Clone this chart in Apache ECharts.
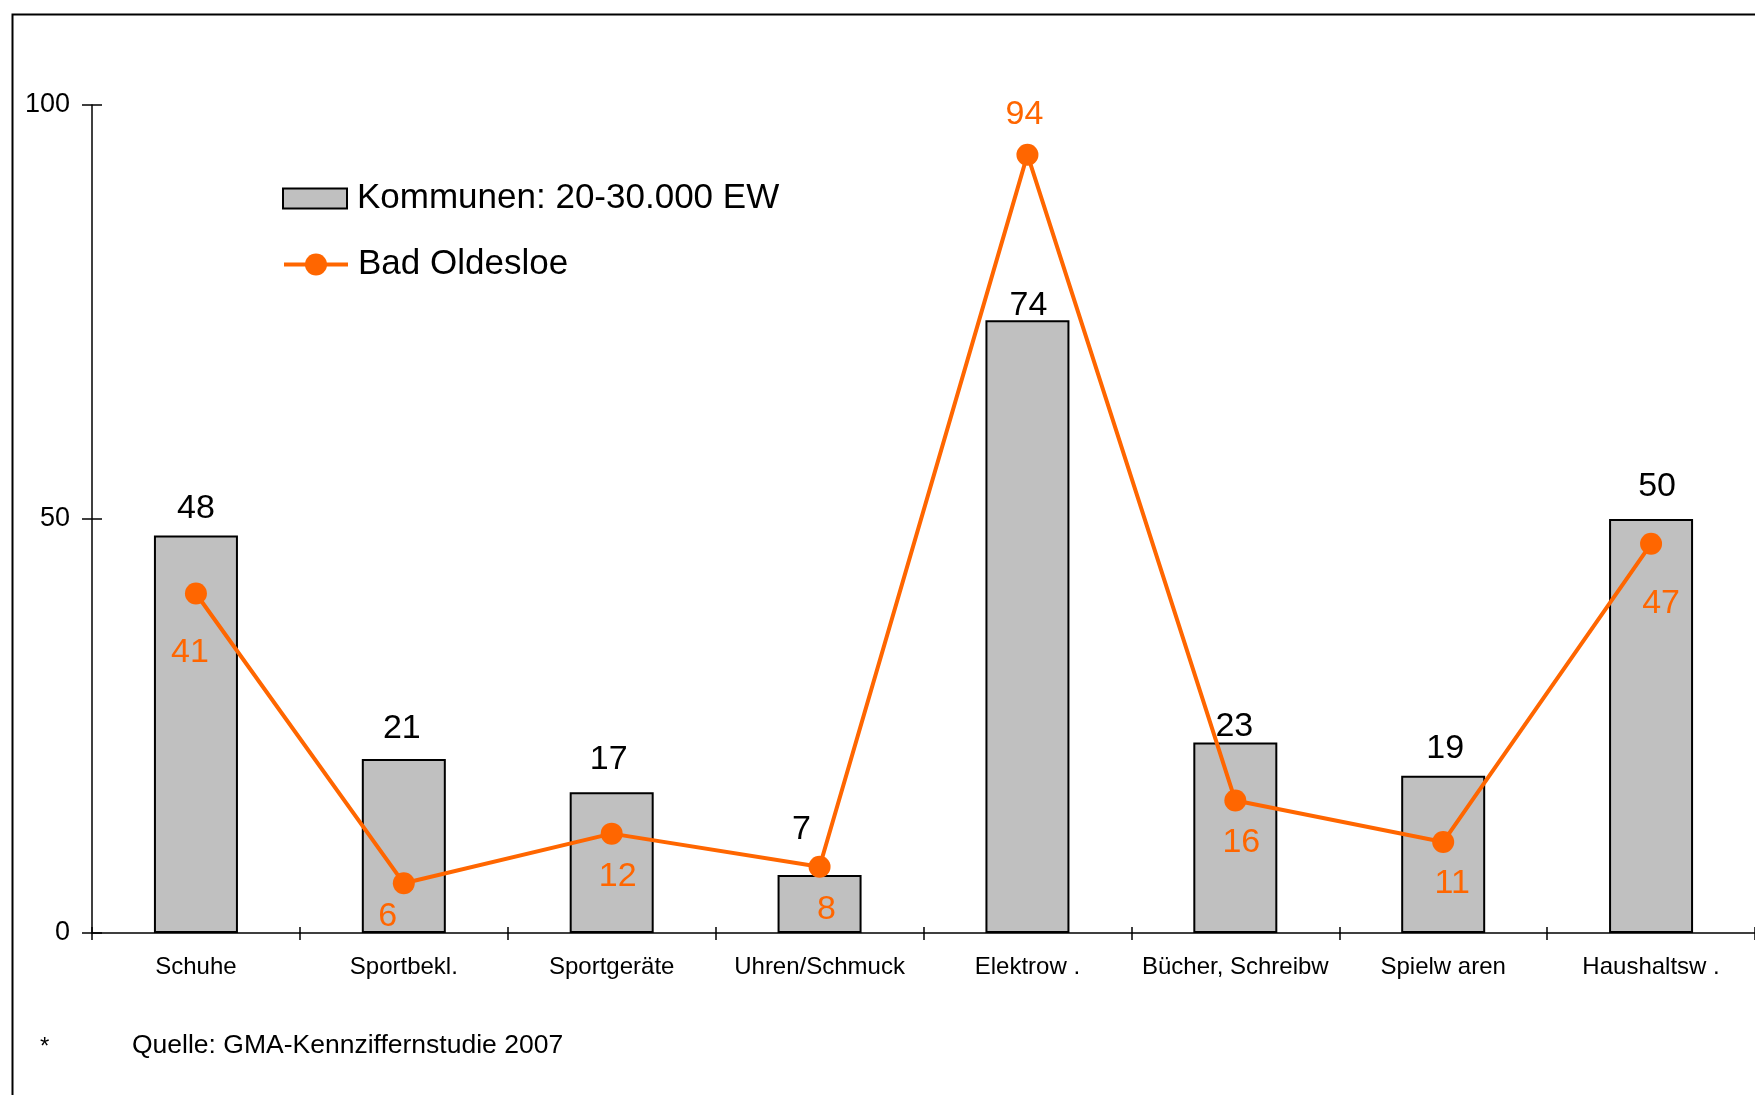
<!DOCTYPE html>
<html><head><meta charset="utf-8">
<script src="https://cdn.jsdelivr.net/npm/echarts@6/dist/echarts.min.js"></script>
<style>html,body{margin:0;padding:0;background:#fff}#c{width:1755px;height:1095px}</style>
</head><body><div id="c"></div>
<script>
const categories = ['Schuhe','Sportbekl.','Sportgeräte','Uhren/Schmuck','Elektrow .','Bücher, Schreibw','Spielw aren','Haushaltsw .'];
const kommunenValues = [48,21,17,7,74,23,19,50];
const oldesloeValues = [41,6,12,8,94,16,11,47];
const yTicks = [0,50,100];
const seriesNames = ['Kommunen: 20-30.000 EW','Bad Oldesloe'];
const footnote = 'Quelle: GMA-Kennziffernstudie 2007';
// label nudges (style only)
const barLabelOffsets = [[0,0],[-2,-3],[-3,-6],[-18,-18],[1,12],[-1,11],[2,0],[6,-5]];
const lineLabelOffsets = [[-6,59],[-16,33],[6,43],[7,43],[-3,-40],[6,42],[9,42],[10,60]];

const FONT = 'Liberation Sans, Arial, sans-serif';
const ORANGE = '#ff6600';
const chart = echarts.init(document.getElementById('c'), null, {renderer:'canvas'});
const gridCfg = {left:92, top:105, width:1664, height:828};
const legendText = {fontSize:35, color:'#000', fontFamily:FONT, lineHeight:35, padding:[0,0,0,5]};
chart.setOption({
  animation:false,
  backgroundColor:'#fff',
  textStyle:{fontFamily:FONT},
  grid:gridCfg,
  legend:[{
    orient:'vertical', left:277, top:176, itemWidth:64, itemHeight:20,
    textStyle:legendText,
    data:[{name:seriesNames[0], icon:'rect'}]
  },{
    orient:'vertical', left:277, top:242, itemWidth:64, itemHeight:27.5,
    textStyle:legendText,
    lineStyle:{width:4, color:ORANGE},
    data:[{name:seriesNames[1]}]
  }],
  xAxis:[{
    type:'category', data:categories, boundaryGap:true,
    axisLine:{lineStyle:{color:'#000', width:1.5}},
    axisTick:{show:true, length:7, lineStyle:{color:'#000', width:1.5}},
    axisLabel:{fontSize:24, color:'#000', margin:22, fontFamily:FONT, interval:0},
    splitLine:{show:false}
  },{
    type:'category', data:categories, boundaryGap:true, position:'bottom',
    axisLine:{show:false},
    axisTick:{show:true, inside:true, length:6, lineStyle:{color:'#000', width:1.5}},
    axisLabel:{show:false}, splitLine:{show:false}
  }],
  yAxis:[{
    type:'value', min:yTicks[0], max:yTicks[yTicks.length-1], interval:yTicks[1]-yTicks[0],
    axisLine:{show:true, lineStyle:{color:'#000', width:1.5}},
    axisTick:{show:true, length:10, lineStyle:{color:'#000', width:1.5}},
    axisLabel:{fontSize:27, color:'#000', margin:22, fontFamily:FONT},
    splitLine:{show:false}
  },{
    type:'value', min:yTicks[0], max:yTicks[yTicks.length-1], interval:yTicks[1]-yTicks[0], position:'left',
    axisLine:{show:false},
    axisTick:{show:true, inside:true, length:10, lineStyle:{color:'#000', width:1.5}},
    axisLabel:{show:false}, splitLine:{show:false}
  }],
  series:[{
    name:seriesNames[0], type:'bar', barWidth:84, xAxisIndex:0, yAxisIndex:0,
    itemStyle:{color:'#c0c0c0', borderColor:'#000', borderWidth:2},
    label:{show:true, position:'top', distance:10, fontSize:34, color:'#000', fontFamily:FONT, lineHeight:34},
    data:kommunenValues.map((v,i)=>({value:v, label:{offset:barLabelOffsets[i]}})),
    z:2
  },{
    name:seriesNames[1], type:'line', xAxisIndex:0, yAxisIndex:0,
    symbol:'circle', symbolSize:22,
    lineStyle:{color:ORANGE, width:4}, itemStyle:{color:ORANGE},
    label:{show:true, position:'inside', fontSize:34, color:ORANGE, fontFamily:FONT},
    data:oldesloeValues.map((v,i)=>({value:v, label:{offset:lineLabelOffsets[i]}})),
    z:5
  }],
  graphic:[
    {type:'rect', left:10, top:12, shape:{width:1800, height:1200}, style:{fill:'none', stroke:'#000', lineWidth:2}, silent:true, z:-1},
    {type:'text', left:40, top:1035, style:{text:'*', fill:'#000', font:'24px '+FONT}},
    {type:'text', left:132, top:1032, style:{text:footnote, fill:'#000', font:'26.5px '+FONT}}
  ]
});
</script></body></html>
